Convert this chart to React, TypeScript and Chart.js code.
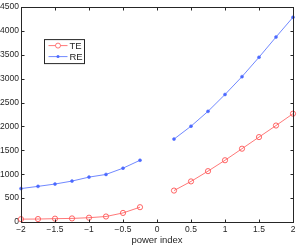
import React, { useEffect, useRef } from "react";
import { Chart, registerables } from "chart.js";
Chart.register(...registerables);

const xLeft = [-2, -1.75, -1.5, -1.25, -1, -0.75, -0.5, -0.25];
const xRight = [0.25, 0.5, 0.75, 1, 1.25, 1.5, 1.75, 2];
const teLeft = [60, 62, 70, 75, 90, 115, 190, 310];
const teRight = [658, 850, 1065, 1293, 1535, 1778, 2020, 2268];
const reLeft = [700, 746, 795, 857, 940, 996, 1127, 1293];
const reRight = [1736, 2006, 2317, 2670, 3044, 3450, 3873, 4288];
const seriesNames = ["TE", "RE"];
const xLabel = "power index";

const FONT = "'Liberation Sans', Arial, Helvetica, sans-serif";
const TE_COLOR = "rgb(255,85,85)";
const RE_COLOR = "rgb(75,105,255)";
const AXIS_COLOR = "#262626";

function build(xl: number[], yl: number[], xr: number[], yr: number[]) {
  const pts: { x: number; y: number | null }[] = [];
  xl.forEach((x, i) => pts.push({ x, y: yl[i] }));
  pts.push({ x: (xl[xl.length - 1] + xr[0]) / 2, y: null });
  xr.forEach((x, i) => pts.push({ x, y: yr[i] }));
  return pts;
}

const boxPlugin = {
  id: "matlabBox",
  afterDatasetsDraw(chart: any) {
    const { ctx, chartArea: a, scales } = chart;
    ctx.save();
    ctx.strokeStyle = AXIS_COLOR;
    ctx.lineWidth = 1;
    const L = Math.round(a.left) + 0.5;
    const R = Math.round(a.right) + 0.5;
    const T = Math.round(a.top) + 0.5;
    const B = Math.round(a.bottom) + 0.5;
    ctx.strokeRect(L, T, R - L, B - T);
    const tl = 3;
    ctx.beginPath();
    scales.x.ticks.forEach((t: any) => {
      const px = Math.round(scales.x.getPixelForValue(t.value)) + 0.5;
      ctx.moveTo(px, B);
      ctx.lineTo(px, B - tl);
      ctx.moveTo(px, T);
      ctx.lineTo(px, T + tl);
    });
    scales.y.ticks.forEach((t: any) => {
      const py = Math.round(scales.y.getPixelForValue(t.value)) + 0.5;
      ctx.moveTo(L, py);
      ctx.lineTo(L + tl, py);
      ctx.moveTo(R, py);
      ctx.lineTo(R - tl, py);
    });
    ctx.stroke();

    // legend
    const lx = a.left + 23.5;
    const ly = a.top + 32.5;
    const lw = 40;
    const lh = 24;
    ctx.fillStyle = "#ffffff";
    ctx.fillRect(lx, ly, lw, lh);
    ctx.strokeStyle = AXIS_COLOR;
    ctx.strokeRect(lx, ly, lw, lh);
    const rows = [
      { name: seriesNames[0], color: TE_COLOR, marker: "circle" },
      { name: seriesNames[1], color: RE_COLOR, marker: "star" },
    ];
    rows.forEach((r, i) => {
      const cy = ly + 6 + i * 11;
      ctx.strokeStyle = r.color;
      ctx.lineWidth = 0.8;
      ctx.beginPath();
      ctx.moveTo(lx + 4, cy);
      ctx.lineTo(lx + 23, cy);
      ctx.stroke();
      const mx = lx + 13.5;
      if (r.marker === "circle") {
        ctx.beginPath();
        ctx.arc(mx, cy, 2.5, 0, Math.PI * 2);
        ctx.fillStyle = "#fff";
        ctx.fill();
        ctx.stroke();
      } else {
        ctx.fillStyle = r.color;
        ctx.beginPath();
        ctx.arc(mx, cy, 1.5, 0, Math.PI * 2);
        ctx.fill();
      }
      ctx.fillStyle = AXIS_COLOR;
      ctx.font = `9.5px ${FONT}`;
      ctx.textBaseline = "middle";
      ctx.textAlign = "left";
      ctx.fillText(r.name, lx + 25, cy + 0.5);
    });
    ctx.restore();
  },
};

const fmt = (v: number) => {
  const s = String(v);
  return s.replace("-", "\u2212");
};

export default function App() {
  const ref = useRef<HTMLCanvasElement>(null);
  useEffect(() => {
    document.body.style.margin = "0";
    const chart = new Chart(ref.current!, {
      type: "line",
      data: {
        datasets: [
          {
            label: seriesNames[0],
            data: build(xLeft, teLeft, xRight, teRight) as any,
            borderColor: TE_COLOR,
            backgroundColor: "rgba(255,255,255,0)",
            borderWidth: 0.8,
            pointStyle: "circle",
            pointRadius: 2.6,
            pointBorderWidth: 0.9,
            pointBorderColor: TE_COLOR,
            pointBackgroundColor: "rgba(255,255,255,0)",
            spanGaps: false,
            clip: false as any,
          },
          {
            label: seriesNames[1],
            data: build(xLeft, reLeft, xRight, reRight) as any,
            borderColor: RE_COLOR,
            backgroundColor: RE_COLOR,
            borderWidth: 0.8,
            pointStyle: "circle",
            pointRadius: 1.5,
            pointBorderWidth: 0.5,
            pointBorderColor: RE_COLOR,
            pointBackgroundColor: RE_COLOR,
            spanGaps: false,
            clip: false as any,
          },
        ],
      },
      options: {
        animation: false,
        responsive: false,
        maintainAspectRatio: false,
        layout: { padding: { top: 6, right: 7, left: 0, bottom: 0 } },
        plugins: { legend: { display: false }, tooltip: { enabled: false } },
        scales: {
          x: {
            type: "linear",
            min: -2,
            max: 2,
            grid: { display: false, drawTicks: false, tickLength: 0 },
            border: { display: false },
            ticks: {
              stepSize: 0.5,
              color: AXIS_COLOR,
              font: { family: FONT, size: 8.5 },
              padding: 3,
              maxRotation: 0,
              autoSkip: false,
              callback: (v: any) => fmt(Number(v)),
            },
            title: {
              display: true,
              text: xLabel,
              color: AXIS_COLOR,
              font: { family: FONT, size: 9.5 },
              padding: { top: 0, bottom: 0 },
            },
            afterFit: (s: any) => {
              s.height = 24;
            },
          },
          y: {
            type: "linear",
            min: 0,
            max: 4500,
            grid: { display: false, drawTicks: false, tickLength: 0 },
            border: { display: false },
            ticks: {
              stepSize: 500,
              color: AXIS_COLOR,
              font: { family: FONT, size: 8.5 },
              padding: 2,
              autoSkip: false,
              callback: (v: any) => fmt(Number(v)),
            },
            afterFit: (s: any) => {
              s.width = 21;
            },
          },
        },
      },
      plugins: [boxPlugin],
    });
    return () => chart.destroy();
  }, []);
  return (
    <div style={{ width: 300, height: 246 }}>
      <canvas ref={ref} width={300} height={246} style={{ display: "block" }} />
    </div>
  );
}
